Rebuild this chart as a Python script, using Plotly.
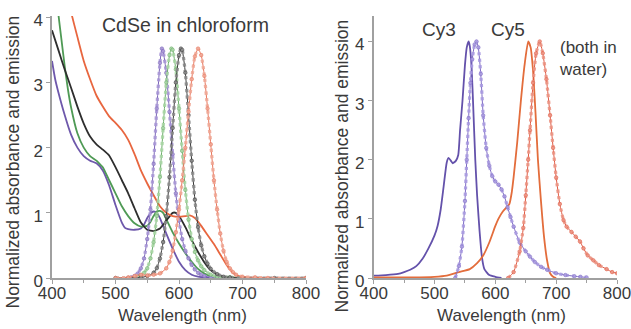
import plotly.graph_objects as go

# ---------------- Left panel: CdSe quantum dots in chloroform ----------------
# Absorbance (solid lines)
qd_purple_abs_wl = [400, 405, 410, 420, 430, 440, 450, 460, 470, 480, 490, 500, 510, 515, 520, 530, 540, 545, 550, 555, 560, 565, 570, 575, 580, 590, 600, 610, 620, 630, 650]
qd_purple_abs = [3.33, 3.05, 2.85, 2.5, 2.2, 2.0, 1.87, 1.8, 1.76, 1.65, 1.42, 1.12, 0.85, 0.77, 0.75, 0.74, 0.76, 0.82, 0.92, 0.99, 1.02, 1.0, 0.92, 0.8, 0.68, 0.45, 0.25, 0.12, 0.05, 0.02, 0.0]

qd_green_abs_wl = [405, 410, 415, 420, 425, 430, 440, 450, 460, 470, 475, 480, 490, 500, 510, 520, 530, 540, 550, 555, 560, 565, 570, 575, 580, 590, 600, 610, 620, 630, 640, 650, 660, 680]
qd_green_abs = [4.5, 4.05, 3.65, 3.25, 2.9, 2.62, 2.22, 2.0, 1.87, 1.8, 1.75, 1.7, 1.5, 1.3, 1.1, 0.95, 0.84, 0.79, 0.8, 0.86, 0.95, 1.02, 1.03, 1.0, 0.9, 0.7, 0.53, 0.38, 0.25, 0.14, 0.07, 0.03, 0.01, 0.0]

qd_black_abs_wl = [400, 410, 420, 430, 440, 450, 460, 470, 480, 490, 500, 510, 520, 530, 540, 550, 560, 570, 580, 590, 595, 600, 610, 620, 630, 640, 650, 660, 670, 690]
qd_black_abs = [3.8, 3.5, 3.2, 2.92, 2.63, 2.37, 2.17, 2.05, 1.97, 1.88, 1.7, 1.5, 1.3, 1.07, 0.85, 0.74, 0.72, 0.76, 0.88, 1.0, 1.0, 0.95, 0.78, 0.58, 0.4, 0.24, 0.12, 0.05, 0.02, 0.0]

qd_red_abs_wl = [425, 430, 440, 450, 460, 470, 480, 490, 500, 510, 520, 530, 540, 550, 560, 570, 580, 590, 600, 610, 617, 625, 635, 645, 655, 665, 675, 685, 695, 710]
qd_red_abs = [4.3, 4.08, 3.7, 3.33, 3.05, 2.8, 2.63, 2.48, 2.38, 2.27, 2.12, 1.9, 1.65, 1.45, 1.27, 1.1, 1.0, 0.95, 0.94, 0.95, 0.96, 0.92, 0.8, 0.66, 0.52, 0.36, 0.2, 0.08, 0.02, 0.0]

# Emission (beaded lines)
qd_purple_em_wl = [520, 525, 530, 535, 540, 545, 550, 555, 560, 565, 570, 573, 575, 580, 585, 590, 595, 600, 605, 610, 615, 620, 625, 630, 635, 640, 650, 660]
qd_purple_em = [0.0, 0.01, 0.03, 0.07, 0.15, 0.3, 0.6, 1.05, 1.75, 2.6, 3.3, 3.52, 3.48, 3.15, 2.55, 1.9, 1.3, 0.88, 0.6, 0.42, 0.3, 0.2, 0.13, 0.08, 0.05, 0.03, 0.01, 0.0]

qd_green_em_wl = [530, 535, 540, 545, 550, 555, 560, 565, 570, 575, 580, 585, 588, 590, 595, 600, 605, 610, 615, 620, 625, 630, 635, 640, 650, 660, 680, 700]
qd_green_em = [0.0, 0.02, 0.04, 0.08, 0.15, 0.3, 0.55, 0.95, 1.55, 2.3, 3.0, 3.42, 3.52, 3.5, 3.2, 2.6, 1.95, 1.35, 0.9, 0.6, 0.4, 0.27, 0.18, 0.12, 0.05, 0.02, 0.01, 0.0]

qd_black_em_wl = [500, 520, 540, 550, 560, 565, 570, 575, 580, 585, 590, 595, 600, 603, 605, 610, 615, 620, 625, 630, 635, 640, 645, 650, 660, 670, 680, 700, 750, 800]
qd_black_em = [0.0, 0.0, 0.01, 0.03, 0.08, 0.15, 0.3, 0.55, 0.95, 1.55, 2.3, 3.0, 3.42, 3.52, 3.5, 3.15, 2.5, 1.8, 1.2, 0.78, 0.5, 0.33, 0.22, 0.14, 0.06, 0.02, 0.01, 0.0, 0.0, 0.0]

qd_red_em_wl = [500, 520, 530, 540, 550, 560, 570, 580, 585, 590, 595, 600, 605, 610, 615, 620, 625, 630, 635, 640, 645, 650, 655, 660, 665, 670, 675, 680, 685, 690, 700, 720, 740, 800]
qd_red_em = [0.0, 0.01, 0.03, 0.05, 0.04, 0.05, 0.07, 0.15, 0.25, 0.42, 0.7, 1.05, 1.5, 2.0, 2.55, 3.05, 3.4, 3.52, 3.42, 3.1, 2.6, 2.05, 1.5, 1.05, 0.68, 0.42, 0.25, 0.15, 0.09, 0.05, 0.02, 0.01, 0.0, 0.0]

# ---------------- Right panel: Cy3 and Cy5 in water ----------------
cy3_abs_wl = [400, 420, 440, 450, 460, 470, 480, 490, 500, 505, 510, 515, 520, 523, 527, 530, 535, 539, 542, 546, 550, 553, 556, 558, 561, 564, 567, 570, 574, 578, 582, 590, 600, 610]
cy3_abs = [0.04, 0.05, 0.07, 0.1, 0.14, 0.2, 0.32, 0.5, 0.72, 0.88, 1.15, 1.55, 1.95, 2.03, 1.98, 1.94, 1.98, 2.08, 2.5, 3.0, 3.6, 3.9, 4.0, 3.92, 3.55, 2.8, 2.0, 1.4, 0.8, 0.35, 0.15, 0.05, 0.02, 0.0]

cy3_em_wl = [534, 540, 545, 550, 553, 556, 559, 562, 566, 569, 572, 576, 580, 585, 590, 595, 600, 605, 610, 615, 620, 625, 630, 640, 650, 657, 665, 675, 685, 700, 715, 730, 740, 750]
cy3_em = [0.0, 0.2, 0.53, 1.3, 2.0, 2.7, 3.3, 3.7, 3.95, 4.0, 3.9, 3.45, 2.75, 2.2, 1.9, 1.72, 1.63, 1.58, 1.5, 1.38, 1.2, 1.03, 0.87, 0.6, 0.45, 0.36, 0.27, 0.19, 0.14, 0.08, 0.05, 0.03, 0.02, 0.01]

cy5_abs_wl = [400, 450, 500, 520, 540, 558, 570, 580, 590, 600, 605, 612, 619, 623, 627, 630, 636, 642, 648, 654, 658, 662, 666, 670, 675, 680, 685, 690, 695, 700]
cy5_abs = [0.01, 0.01, 0.02, 0.04, 0.1, 0.15, 0.25, 0.38, 0.6, 0.88, 1.0, 1.12, 1.2, 1.25, 1.45, 1.7, 2.3, 3.0, 3.6, 4.0, 3.9, 3.5, 2.8, 2.0, 1.3, 0.7, 0.3, 0.08, 0.02, 0.0]

cy5_em_wl = [621, 630, 640, 646, 650, 654, 657, 662, 667, 673, 678, 684, 690, 695, 700, 706, 712, 717, 725, 732, 739, 745, 752, 761, 770, 783, 792, 800]
cy5_em = [0.0, 0.1, 0.45, 0.85, 1.4, 2.0, 2.5, 3.3, 3.8, 4.0, 3.8, 3.36, 2.75, 2.2, 1.7, 1.25, 0.98, 0.87, 0.78, 0.7, 0.62, 0.5, 0.38, 0.3, 0.22, 0.15, 0.1, 0.08]

x_ticks = [400, 500, 600, 700, 800]
y_ticks = [0, 1, 2, 3, 4]

FONT = "Liberation Sans, Arial, Helvetica, sans-serif"
TXT = "#3a3a3a"
AX = "#a0a0a0"

fig = go.Figure()


def abs_line(x, y, color, xa, ya):
    fig.add_trace(go.Scatter(x=x, y=y, mode="lines", xaxis=xa, yaxis=ya,
                             line=dict(color=color, width=1.8, shape="spline", smoothing=0.5),
                             showlegend=False, hoverinfo="skip"))


def em_line(x, y, color, mcolor, xa, ya):
    # thin core line
    fig.add_trace(go.Scatter(x=x, y=y, mode="lines", xaxis=xa, yaxis=ya,
                             line=dict(color=color, width=1.0, shape="spline", smoothing=0.5),
                             showlegend=False, hoverinfo="skip"))
    # beaded look along the curve
    fig.add_trace(go.Scatter(x=x, y=y, mode="lines+markers", xaxis=xa, yaxis=ya,
                             line=dict(color=mcolor, width=3.2, dash="dot", shape="spline", smoothing=0.5),
                             marker=dict(size=3.5, color=mcolor, line=dict(color=color, width=0.6)),
                             showlegend=False, hoverinfo="skip", opacity=0.9))


# left panel
abs_line(qd_purple_abs_wl, qd_purple_abs, "#6e58ab", "x", "y")
abs_line(qd_green_abs_wl, qd_green_abs, "#4f9a55", "x", "y")
abs_line(qd_black_abs_wl, qd_black_abs, "#2e2e2e", "x", "y")
abs_line(qd_red_abs_wl, qd_red_abs, "#e8663f", "x", "y")
em_line(qd_purple_em_wl, qd_purple_em, "#7a64b8", "#a896d6", "x", "y")
em_line(qd_green_em_wl, qd_green_em, "#6cae6a", "#a8d6a4", "x", "y")
em_line(qd_black_em_wl, qd_black_em, "#3a3a3a", "#8a8a8a", "x", "y")
em_line(qd_red_em_wl, qd_red_em, "#e8745a", "#f0a896", "x", "y")

# right panel
abs_line(cy3_abs_wl, cy3_abs, "#6452ab", "x2", "y2")
abs_line(cy5_abs_wl, cy5_abs, "#e36d3c", "x2", "y2")
em_line(cy3_em_wl, cy3_em, "#7d6ac4", "#a99be0", "x2", "y2")
em_line(cy5_em_wl, cy5_em, "#df5a44", "#ec9483", "x2", "y2")

W, H = 631, 329
L, R = 0, 8
T, B = 16, 51
PW = W - L - R
PH = H - T - B


def px_x(p):
    return (p - L) / PW


def px_y(p):
    return (H - B - p) / PH


xcommon = dict(range=[400, 800], tickvals=x_ticks, ticks="outside", ticklen=4, tickwidth=1,
               tickcolor=AX, showline=True, linecolor=AX, linewidth=1.5, showgrid=False,
               zeroline=False, tickfont=dict(size=17, color=TXT, family=FONT),
               ticklabelstandoff=-5, ticklabeloverflow="allow",
               minor=dict(dtick=50, ticks="outside", ticklen=3, tickcolor=AX, showgrid=False),
               automargin=False, fixedrange=True)
ycommon = dict(tickvals=y_ticks, ticks="outside", ticklen=4, tickwidth=1, tickcolor=AX,
               showline=True, linecolor=AX, linewidth=1.5, showgrid=False, zeroline=False,
               ticklabelshift=3, ticklabeloverflow="allow",
               tickfont=dict(size=17, color=TXT, family=FONT), automargin=False, fixedrange=True)

fig.update_layout(
    width=W, height=H,
    margin=dict(l=L, r=R, t=T, b=B),
    paper_bgcolor="white", plot_bgcolor="white",
    font=dict(family=FONT, color=TXT),
    xaxis=dict(domain=[px_x(52), px_x(306)], anchor="y", **xcommon),
    yaxis=dict(domain=[0, 1], anchor="x", range=[0, 4.02], **ycommon),
    xaxis2=dict(domain=[px_x(373.7), px_x(617)], anchor="y2", **xcommon),
    yaxis2=dict(domain=[0, 1], anchor="x2", range=[0, 4.43], **ycommon),
    showlegend=False,
)

ann = [
    dict(text="Wavelength (nm)", x=px_x(182.5), y=px_y(315), size=17, angle=0),
    dict(text="Wavelength (nm)", x=px_x(501), y=px_y(315), size=17, angle=0),
    dict(text="Normalized absorbance and emission", x=px_x(12.5), y=px_y(162), size=17.5, angle=-90),
    dict(text="Normalized absorbance and emission", x=px_x(341.5), y=px_y(166), size=17.5, angle=-90),
    dict(text="CdSe in chloroform", x=px_x(185), y=px_y(25), size=19.5, angle=0),
    dict(text="Cy3", x=px_x(439), y=px_y(30), size=19, angle=0),
    dict(text="Cy5", x=px_x(508), y=px_y(30), size=19, angle=0),
]
for a in ann:
    fig.add_annotation(text=a["text"], x=a["x"], y=a["y"], xref="paper", yref="paper",
                       xanchor="center", yanchor="middle", showarrow=False, textangle=a["angle"],
                       font=dict(size=a["size"], color=TXT, family=FONT))

fig.add_annotation(text="(both in<br>water)", x=px_x(557), y=px_y(36), xref="paper", yref="paper",
                   xanchor="left", yanchor="top", align="left", showarrow=False,
                   font=dict(size=17, color=TXT, family=FONT))

fig.write_html("out.html", config={"displayModeBar": False})
